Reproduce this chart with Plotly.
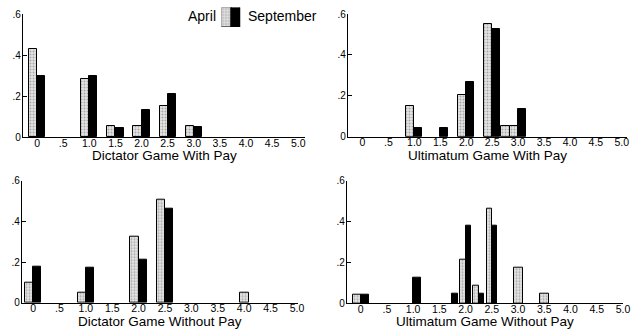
import plotly.graph_objects as go

# ---------------- data ----------------
dict_pay_cats = [0, 1.0, 1.5, 2.0, 2.5, 3.0]
dict_pay_april = [0.43, 0.285, 0.052, 0.052, 0.151, 0.055]
dict_pay_sept = [0.297, 0.297, 0.045, 0.131, 0.211, 0.049]

ult_pay_cats = [1.0, 1.5, 2.0, 2.5, 2.75, 3.0]
ult_pay_april = [0.15, None, 0.204, 0.551, 0.05, 0.05]
ult_pay_sept = [0.044, 0.044, 0.267, 0.525, None, 0.134]

dict_nopay_cats = [0, 1.0, 2.0, 2.5, 4.0]
dict_nopay_april = [0.097, 0.051, 0.325, 0.508, 0.049]
dict_nopay_sept = [0.177, 0.174, 0.213, 0.464, None]

ult_nopay_cats = [0, 1.0, 1.75, 2.0, 2.25, 2.5, 3.0, 3.5]
ult_nopay_april = [0.044, None, None, 0.212, 0.086, 0.463, 0.176, 0.047]
ult_nopay_sept = [0.044, 0.127, 0.047, 0.378, 0.047, 0.378, None, None]

x_tick_vals = [0, 0.5, 1.0, 1.5, 2.0, 2.5, 3.0, 3.5, 4.0, 4.5, 5.0]
x_tick_text = ["0", ".5", "1.0", "1.5", "2.0", "2.5", "3.0", "3.5", "4.0", "4.5", "5.0"]
y_tick_vals = [0, 0.2, 0.4, 0.6]
y_tick_text = ["0", ".2", ".4", ".6"]

titles = ["Dictator Game With Pay", "Ultimatum Game With Pay",
          "Dictator Game Without Pay", "Ultimatum Game Without Pay"]

# ---------------- layout geometry (pixels of 635x329) ----------------
W, H = 635, 329
FONT = "Liberation Sans, Arial, Helvetica, sans-serif"

panels = [
    # cats, april, sept, x px, y px (top, bottom), x range, narrow set, title y px
    (dict_pay_cats, dict_pay_april, dict_pay_sept, (23, 305), (14, 137), (-0.27, 5.13), set(), 155.5),
    (ult_pay_cats, ult_pay_april, ult_pay_sept, (348, 627), (14, 136.7), (-0.28, 5.1), set(), 156),
    (dict_nopay_cats, dict_nopay_april, dict_nopay_sept, (22, 298), (180.7, 302.7), (-0.21, 5.02), set(), 321.5),
    (ult_nopay_cats, ult_nopay_april, ult_nopay_sept, (347, 623), (180.7, 303.3), (-0.26, 5.0),
     {1.75, 2.0, 2.25, 2.5}, 321.8),
]

april_marker = dict(color="#dcdcdc",
                    pattern=dict(shape=".", fgcolor="#6a6a6a", bgcolor="#e4e4e4", size=3, solidity=0.35),
                    line=dict(color="black", width=1))
sept_marker = dict(color="black", line=dict(color="black", width=1))

fig = go.Figure()
layout = dict(width=W, height=H, margin=dict(l=0, r=0, t=0, b=0, autoexpand=False),
              paper_bgcolor="white", plot_bgcolor="white",
              showlegend=False, bargap=0, barmode="overlay",
              font=dict(family=FONT, color="black"))
annotations = []

BW = 0.155
NW = 0.10
for i, (cats, apr, sep, xpx, ypx, xr, narrow, ty) in enumerate(panels, start=1):
    xa = "x" if i == 1 else f"x{i}"
    ya = "y" if i == 1 else f"y{i}"
    ax_x = "xaxis" if i == 1 else f"xaxis{i}"
    ax_y = "yaxis" if i == 1 else f"yaxis{i}"

    ax_, ay_, aw_, ao_ = [], [], [], []
    sx_, sy_, sw_, so_ = [], [], [], []
    for c, a, s in zip(cats, apr, sep):
        w = NW if c in narrow else BW
        if a is not None:
            ax_.append(c); ay_.append(a)
            if s is not None:
                aw_.append(w); ao_.append(-w)
            else:
                ww = w * 1.1
                aw_.append(ww); ao_.append(-ww / 2)
        if s is not None:
            sx_.append(c); sy_.append(s); sw_.append(w); so_.append(0)

    fig.add_trace(go.Bar(x=ax_, y=ay_, width=aw_, offset=ao_, marker=april_marker,
                         name="April", xaxis=xa, yaxis=ya, hoverinfo="x+y"))
    fig.add_trace(go.Bar(x=sx_, y=sy_, width=sw_, offset=so_, marker=sept_marker,
                         name="September", xaxis=xa, yaxis=ya, hoverinfo="x+y"))

    layout[ax_x] = dict(domain=[xpx[0] / W, xpx[1] / W], range=list(xr), anchor=ya,
                        automargin=False,
                        showline=True, linecolor="black", linewidth=1.2,
                        showgrid=False, zeroline=False, ticks="",
                        ticklabelstandoff=-4,
                        tickvals=x_tick_vals, ticktext=x_tick_text,
                        tickfont=dict(size=10.5, family=FONT, color="black"))
    layout[ax_y] = dict(domain=[1 - ypx[1] / H, 1 - ypx[0] / H], range=[0, 0.6], anchor=xa,
                        automargin=False,
                        showline=True, linecolor="black", linewidth=1.2,
                        showgrid=False, zeroline=False, ticks="inside", ticklen=4,
                        tickcolor="black", tickwidth=1,
                        ticklabelstandoff=-1,
                        tickvals=y_tick_vals, ticktext=y_tick_text,
                        tickfont=dict(size=10, family=FONT, color="black"))
    annotations.append(dict(text=titles[i - 1], xref="paper", yref="paper",
                            x=(xpx[0] + xpx[1]) / 2 / W, y=1 - ty / H,
                            xanchor="center", yanchor="middle", showarrow=False,
                            font=dict(size=13.5, family=FONT, color="black")))

# ---------------- legend (April [swatches] September) ----------------
fig.add_trace(go.Bar(x=[0], y=[1], width=[1], marker=april_marker, xaxis="x5", yaxis="y5",
                     hoverinfo="skip"))
fig.add_trace(go.Bar(x=[1], y=[1], width=[1], marker=sept_marker, xaxis="x5", yaxis="y5",
                     hoverinfo="skip"))
layout["xaxis5"] = dict(domain=[221.5 / W, 240.5 / W], range=[-0.5, 1.5], anchor="y5",
                        visible=False, fixedrange=True, automargin=False)
layout["yaxis5"] = dict(domain=[1 - 27 / H, 1 - 7.5 / H], range=[0, 1], anchor="x5",
                        visible=False, fixedrange=True, automargin=False)
annotations.append(dict(text="April", xref="paper", yref="paper", x=218 / W, y=1 - 16 / H,
                        xanchor="right", yanchor="middle", showarrow=False,
                        font=dict(size=14, family=FONT, color="black")))
annotations.append(dict(text="September", xref="paper", yref="paper", x=246 / W, y=1 - 16 / H,
                        xanchor="left", yanchor="middle", showarrow=False,
                        font=dict(size=14, family=FONT, color="black")))

layout["annotations"] = annotations
fig.update_layout(**layout)
fig.write_html("out.html", config={"displayModeBar": False},
               post_script="document.body.style.margin='0px';document.body.style.overflow='hidden';")
